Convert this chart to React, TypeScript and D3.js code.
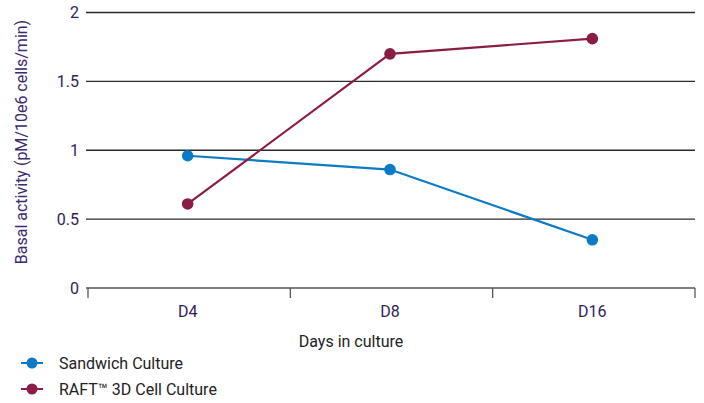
import React from "react";
import * as d3 from "d3";

const categories = ["D4", "D8", "D16"];
const sandwichValues = [0.96, 0.86, 0.35];
const raftValues = [0.61, 1.7, 1.81];
const yTicks = [0, 0.5, 1, 1.5, 2];
const seriesNames = ["Sandwich Culture", "RAFT\u2122 3D Cell Culture"];
const xTitle = "Days in culture";
const yTitle = "Basal activity (pM/10e6 cells/min)";

const W = 704;
const H = 403;
const BLUE = "#0a7bc4";
const RED = "#8a1d45";
const TICK_TEXT = "#2f2358";
const FONT = "Roboto, 'DejaVu Sans', sans-serif";

export default function App() {
  const x = d3.scaleBand<string>().domain(categories).range([88, 695]).padding(0);
  const y = d3.scaleLinear().domain([0, 2]).range([288, 12.5]);
  const line = d3
    .line<number>()
    .x((_, i) => (x(categories[i]) as number) + x.bandwidth() / 2 - 1.5)
    .y((d) => y(d));

  const series = [
    { name: seriesNames[0], values: sandwichValues, color: BLUE },
    { name: seriesNames[1], values: raftValues, color: RED },
  ];

  const boundaries = [...categories.map((c) => x(c) as number), x.range()[1]];

  return (
    <svg
      width={W}
      height={H}
      style={{ position: "absolute", left: 0, top: 0, background: "#fff" }}
      fontFamily={FONT}
    >
      {yTicks.map((t) => (
        <g key={t}>
          {t > 0 && (
            <line x1={86} x2={695} y1={y(t)} y2={y(t)} stroke="#2a2a2a" strokeWidth={1.3} />
          )}
          <text
            x={79}
            y={y(t)}
            dy="0.35em"
            textAnchor="end"
            fontSize={16}
            fill={TICK_TEXT}
          >
            {t}
          </text>
        </g>
      ))}
      <line x1={86} x2={695} y1={y(0)} y2={y(0)} stroke="#555" strokeWidth={1.3} />
      {boundaries.map((b, i) => (
        <line key={i} x1={b} x2={b} y1={y(0)} y2={y(0) + 10} stroke="#555" strokeWidth={1.3} />
      ))}
      {categories.map((c) => (
        <text
          key={c}
          x={(x(c) as number) + x.bandwidth() / 2 - 1.5}
          y={317}
          textAnchor="middle"
          fontSize={16}
          fill={TICK_TEXT}
        >
          {c}
        </text>
      ))}
      <text x={351} y={347} textAnchor="middle" fontSize={16} fill="#222">
        {xTitle}
      </text>
      <text
        transform={`translate(27, 142) rotate(-90)`}
        textAnchor="middle"
        fontSize={16}
        fill="#3b2a6e"
      >
        {yTitle}
      </text>
      {series.map((s) => (
        <g key={s.name}>
          <path d={line(s.values) || ""} fill="none" stroke={s.color} strokeWidth={2.2} />
          {s.values.map((v, i) => (
            <circle
              key={i}
              cx={(x(categories[i]) as number) + x.bandwidth() / 2 - 1.5}
              cy={y(v)}
              r={5.8}
              fill={s.color}
            />
          ))}
        </g>
      ))}
      {series.map((s, i) => {
        const ly = 363 + i * 26;
        return (
          <g key={s.name}>
            <line x1={21} x2={43} y1={ly} y2={ly} stroke={s.color} strokeWidth={2} />
            <circle cx={32} cy={ly} r={5.5} fill={s.color} />
            <text x={59} y={ly} dy="0.35em" fontSize={16} fill="#222">
              {s.name}
            </text>
          </g>
        );
      })}
    </svg>
  );
}
